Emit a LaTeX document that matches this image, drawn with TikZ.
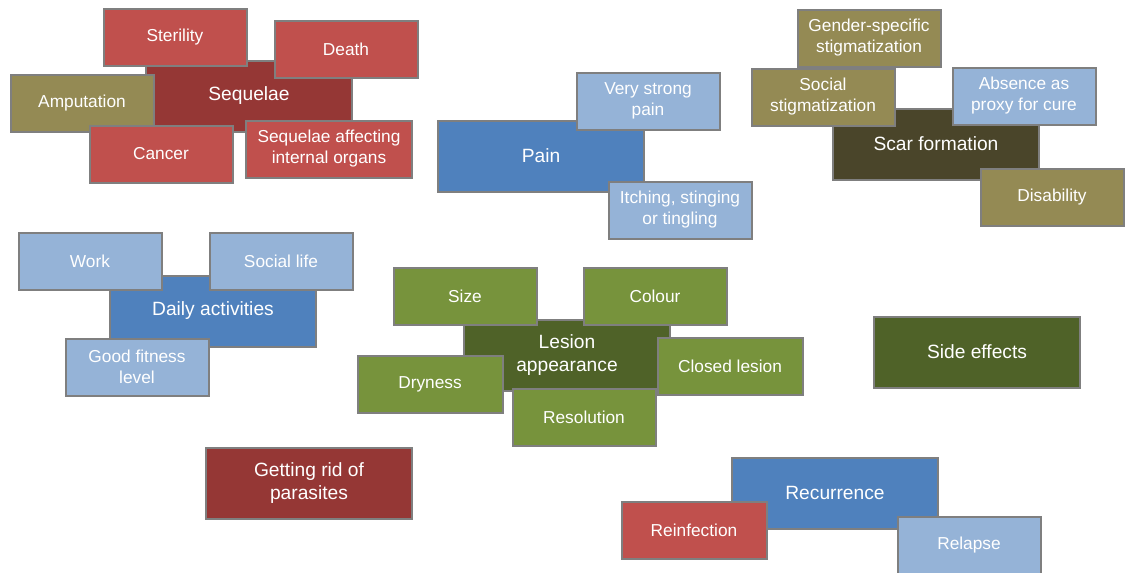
\documentclass[tikz,border=0pt]{standalone}
\usepackage{fontspec}
\setmainfont{Liberation Sans}
\definecolor{cDarkRed}{HTML}{953735}
\definecolor{cRed}{HTML}{C0504D}
\definecolor{cOlive}{HTML}{948A54}
\definecolor{cDarkOlive}{HTML}{4A452A}
\definecolor{cBlue}{HTML}{4F81BD}
\definecolor{cLightBlue}{HTML}{95B3D7}
\definecolor{cGreen}{HTML}{77933C}
\definecolor{cDarkGreen}{HTML}{4F6228}
\definecolor{cBorder}{HTML}{7F7F7F}
\begin{document}
\begin{tikzpicture}[x=1pt,y=-1pt,
  box/.style={draw=cBorder, line width=2pt, text=white, align=center, inner sep=0pt},
  mainbox/.style={box, minimum width=206pt, minimum height=71pt, font=\fontsize{19.2}{23.5}\selectfont},
  subbox/.style={box, minimum width=143pt, minimum height=57pt, font=\fontsize{17.3}{21}\selectfont}]
\useasboundingbox (0,0) rectangle (1128,573);
% Sequelae
\node[mainbox, fill=cDarkRed] (seq) at (249,96) {Sequelae};
\node[subbox, fill=cRed] (ster) at (175,37) {Sterility};
\node[subbox, fill=cRed] (death) at (346,49) {Death};
\node[subbox, fill=cOlive] (amp) at (82,103) {Amputation};
\node[subbox, fill=cRed] (canc) at (161,154) {Cancer};
\node[subbox, fill=cRed, minimum width=166pt] (int) at (329,149) {Sequelae affecting\\internal organs};
% Pain
\node[mainbox, fill=cBlue] (pain) at (541,156) {Pain};
\node[subbox, fill=cLightBlue] (vsp) at (648,101) {Very strong\\pain};
\node[subbox, fill=cLightBlue] (itch) at (680,210) {Itching, stinging\\or tingling};
% Scar formation
\node[mainbox, fill=cDarkOlive] (scar) at (936,144) {Scar formation};
\node[subbox, fill=cOlive] (gender) at (869,38) {Gender-specific\\stigmatization};
\node[subbox, fill=cOlive] (social) at (823,97) {Social\\stigmatization};
\node[subbox, fill=cLightBlue] (absence) at (1024,96) {Absence as\\proxy for cure};
\node[subbox, fill=cOlive] (disab) at (1052,197) {Disability};
% Daily activities
\node[mainbox, fill=cBlue] (daily) at (213,311) {Daily activities};
\node[subbox, fill=cLightBlue] (work) at (90,261) {Work};
\node[subbox, fill=cLightBlue] (slife) at (281,261) {Social life};
\node[subbox, fill=cLightBlue] (fit) at (137,367) {Good fitness\\level};
% Lesion appearance
\node[mainbox, fill=cDarkGreen] (lesion) at (567,355) {Lesion\\appearance};
\node[subbox, fill=cGreen] (size) at (465,296) {Size};
\node[subbox, fill=cGreen] (colour) at (655,296) {Colour};
\node[subbox, fill=cGreen, minimum width=145pt] (dry) at (430,384) {Dryness};
\node[subbox, fill=cGreen, minimum width=145pt] (closed) at (730,366) {Closed lesion};
\node[subbox, fill=cGreen] (resol) at (584,417) {Resolution};
% Others
\node[mainbox, fill=cDarkGreen] (side) at (977,352) {Side effects};
\node[mainbox, fill=cDarkRed] (rid) at (309,483) {Getting rid of\\parasites};
% Recurrence
\node[mainbox, fill=cBlue] (rec) at (835,493) {Recurrence};
\node[subbox, fill=cRed, minimum width=145pt] (reinf) at (694,530) {Reinfection};
\node[subbox, fill=cLightBlue] (relapse) at (969,545) {Relapse};
\end{tikzpicture}
\end{document}
